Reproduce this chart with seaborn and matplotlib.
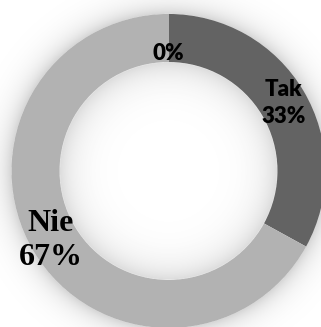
import numpy as np
import matplotlib
matplotlib.use("Agg")
import matplotlib.pyplot as plt
import seaborn as sns

# Survey answers and their shares (percent)
categories = ["Tak", "Nie", ""]
shares = [33, 67, 0]

slice_colors = ["#636363", "#b2b2b2", "#b2b2b2"]

sns.set_theme(style="white")
plt.rcParams["font.family"] = ["Lato", "DejaVu Sans"]

W, H, DPI = 321, 327, 100
fig = plt.figure(figsize=(W / DPI, H / DPI), dpi=DPI)
ax = fig.add_axes([0, 0, 1, 1])

# view window around the unit-radius ring
x0, x1 = -1.073, 0.971
y0, y1 = -0.994, 1.089
inner = 0.694

wedges, _ = ax.pie(shares, colors=slice_colors, startangle=90, counterclock=False,
                   radius=1.0, wedgeprops=dict(width=1 - inner, linewidth=0))
for w in wedges:
    w.set_zorder(2)

# soft drop shadow around the ring and inside the hole
gx = np.linspace(x0, x1, W * 2)
gy = np.linspace(y0, y1, H * 2)
XX, YY = np.meshgrid(gx, gy)
RR = np.hypot(XX, YY)
dark = np.zeros_like(RR)
outside = RR > 1.0
dark[outside] = 0.17 * np.exp(-(RR[outside] - 1.0) * 157 / 11.0)
hole = RR < inner
dark[hole] = 0.14 * np.exp(-(inner - RR[hole]) * 157 / 16.0)
ax.imshow(1 - dark, cmap="gray", vmin=0, vmax=1, extent=(x0, x1, y0, y1),
          origin="lower", zorder=0, interpolation="bilinear")

label_radius = [0.85, 0.87, 0.75]
label_style = [
    dict(fontsize=16, fontweight="heavy", family=["Lato", "DejaVu Sans"], linespacing=1.32),
    dict(fontsize=23, fontweight="bold", family=["Liberation Serif", "DejaVu Serif"], linespacing=1.22),
    dict(fontsize=16, fontweight="heavy", family=["Lato", "DejaVu Sans"], linespacing=1.2),
]
for w, cat, val, rad, st in zip(wedges, categories, shares, label_radius, label_style):
    mid = np.deg2rad((w.theta1 + w.theta2) / 2)
    txt = f"{cat}\n{val}%" if cat else f"{val}%"
    ax.text(rad * np.cos(mid), rad * np.sin(mid), txt, ha="center", va="center",
            color="black", zorder=3, **st)

ax.set_xlim(x0, x1)
ax.set_ylim(y0, y1)
ax.set_aspect("equal")
ax.axis("off")

fig.savefig("out.png", dpi=DPI)
